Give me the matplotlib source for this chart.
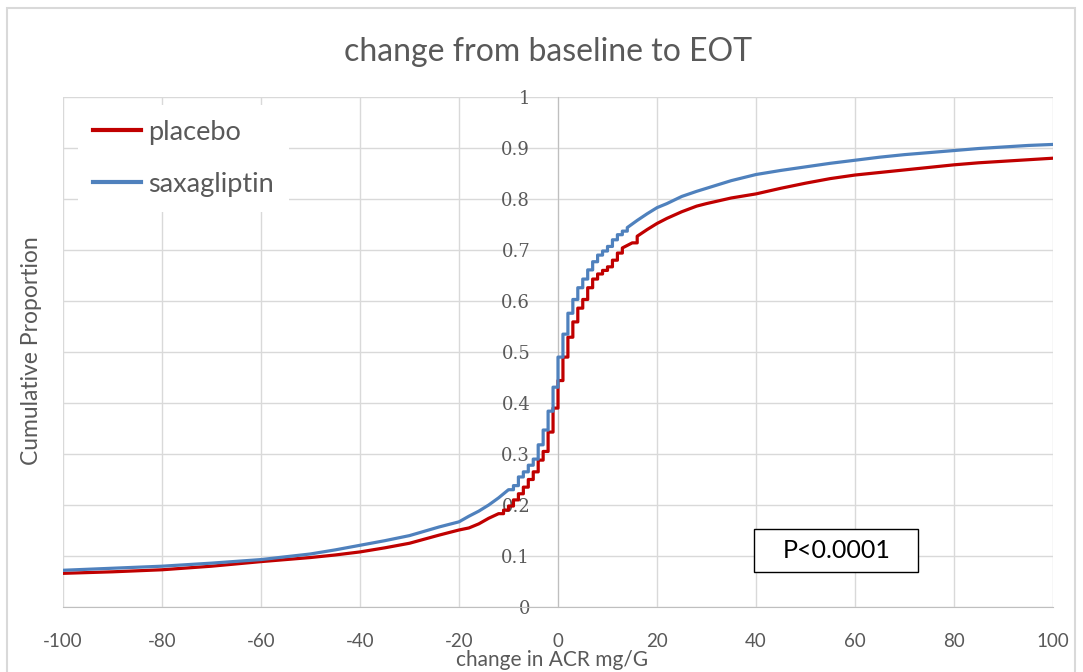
import matplotlib
matplotlib.use("Agg")
import matplotlib.pyplot as plt
from matplotlib.patches import Rectangle
import numpy as np

plt.rcParams["axes.unicode_minus"] = False

# cumulative distribution of change in ACR
placebo_x = [-100, -90, -80, -70, -60, -50, -45, -40, -35, -30, -24, -20, -18, -16, -14,
             -12, -11, -10, -9, -8, -7, -6, -5, -4, -3, -2, -1, 0, 1, 2, 3, 4, 5, 6, 7,
             8, 9, 10, 11, 12, 13, 15, 16, 18, 20, 22, 25, 28, 30, 35, 40, 45, 50, 55,
             60, 65, 70, 75, 80, 85, 90, 95, 100]
placebo_y = [0.066, 0.069, 0.073, 0.080, 0.089, 0.097, 0.102, 0.108, 0.116, 0.125, 0.141,
             0.151, 0.155, 0.163, 0.174, 0.183, 0.190, 0.198, 0.210, 0.222, 0.235, 0.250,
             0.265, 0.288, 0.305, 0.343, 0.390, 0.444, 0.490, 0.529, 0.559, 0.586, 0.603,
             0.626, 0.643, 0.653, 0.660, 0.667, 0.680, 0.694, 0.704, 0.714, 0.727, 0.740,
             0.752, 0.762, 0.775, 0.786, 0.791, 0.802, 0.810, 0.821, 0.831, 0.840, 0.847,
             0.852, 0.857, 0.862, 0.867, 0.871, 0.874, 0.877, 0.880]

saxa_x = [-100, -90, -80, -70, -60, -50, -45, -40, -35, -30, -24, -20, -18, -16, -14,
          -12, -10, -9, -8, -7, -6, -5, -4, -3, -2, -1, 0, 1, 2, 3, 4, 5, 6, 7, 8, 9, 10,
          11, 12, 13, 14, 16, 18, 20, 22, 25, 28, 30, 35, 40, 45, 50, 55, 60, 65, 70, 75,
          80, 85, 90, 95, 100]
saxa_y = [0.072, 0.076, 0.080, 0.086, 0.093, 0.104, 0.112, 0.121, 0.130, 0.140, 0.157,
          0.167, 0.178, 0.188, 0.200, 0.214, 0.230, 0.238, 0.255, 0.265, 0.278, 0.290,
          0.318, 0.347, 0.384, 0.431, 0.490, 0.535, 0.576, 0.603, 0.626, 0.643, 0.661,
          0.677, 0.690, 0.698, 0.707, 0.720, 0.730, 0.737, 0.744, 0.758, 0.771, 0.783,
          0.791, 0.805, 0.815, 0.821, 0.836, 0.848, 0.856, 0.863, 0.870, 0.876, 0.882,
          0.887, 0.891, 0.895, 0.899, 0.902, 0.905, 0.907]

x_ticks = [-100, -80, -60, -40, -20, 0, 20, 40, 60, 80, 100]
y_ticks = [0, 0.1, 0.2, 0.3, 0.4, 0.5, 0.6, 0.7, 0.8, 0.9, 1]
y_labels = ["0", "0.1", "0.2", "0.3", "0.4", "0.5", "0.6", "0.7", "0.8", "0.9", "1"]

GRAY = "#595959"
RED = "#c00000"
BLUE = "#4f81bd"


def ecdf_path(xs, ys):
    # steps where the points are dense, straight segments in the sparse tails
    px, py = [xs[0]], [ys[0]]
    for i in range(1, len(xs)):
        if xs[i] - xs[i - 1] <= 1:
            px.append(xs[i])
            py.append(ys[i - 1])
        px.append(xs[i])
        py.append(ys[i])
    return np.array(px), np.array(py)


fig = plt.figure(figsize=(10.83, 6.72), dpi=100)
ax = fig.add_axes([63 / 1083, 1 - 607 / 672, 990 / 1083, 510 / 672])

fig.patches.append(Rectangle((7 / 1083, -0.01), 1068 / 1083, 1 - 8 / 672 + 0.01,
                             transform=fig.transFigure, fill=False,
                             edgecolor="#d9d9d9", linewidth=1.5))

# spines first: moving a spine resets the tick labels
for s in ["top", "right"]:
    ax.spines[s].set_visible(False)
ax.spines["left"].set_position(("data", 0))
ax.spines["left"].set_color("#bfbfbf")
ax.spines["bottom"].set_color("#bfbfbf")

px, py = ecdf_path(placebo_x, placebo_y)
ax.plot(px, py, color=RED, linewidth=2.3, label="placebo", zorder=3)
sx, sy = ecdf_path(saxa_x, saxa_y)
ax.plot(sx, sy, color=BLUE, linewidth=2.3, label="saxagliptin", zorder=4)

ax.set_xlim(-100, 100)
ax.set_ylim(0, 1)
ax.set_xticks(x_ticks)
ax.set_xticklabels([str(v) for v in x_ticks])
ax.set_yticks(y_ticks)
ax.set_yticklabels(y_labels)
ax.grid(True, color="#d9d9d9", linewidth=1)
ax.set_axisbelow(True)
ax.tick_params(axis="both", length=0, colors=GRAY)
ax.tick_params(axis="y", pad=20, labelsize=13)
ax.tick_params(axis="x", pad=19, labelsize=13.5)

fig.text(548 / 1083, 1 - 52 / 672, "change from baseline to EOT", ha="center", va="center",
         fontsize=23, color=GRAY, family="Lato")
fig.text(32 / 1083, 1 - 351 / 672, "Cumulative Proportion", ha="center", va="center",
         rotation=90, fontsize=16.5, color=GRAY, family="Lato")
fig.text(552 / 1083, 1 - 660 / 672, "change in ACR mg/G", ha="center", va="center",
         fontsize=15, color=GRAY, family="Lato")

leg = ax.legend(loc="upper left", bbox_to_anchor=(0.015, 0.985), borderaxespad=0,
                frameon=True, facecolor="white", edgecolor="none", framealpha=1,
                fancybox=False, prop={"family": "Lato", "size": 19.5}, handlelength=1.8,
                handletextpad=0.25, labelspacing=1.0, borderpad=0.55)
for t in leg.get_texts():
    t.set_color(GRAY)
for h in leg.get_lines():
    h.set_linewidth(3)

ax.add_patch(Rectangle((0.698, 0.0686), 0.1656, 0.0844, transform=ax.transAxes,
                       facecolor="white", edgecolor="black", linewidth=1, zorder=5))
ax.text(0.781, 0.11, "P<0.0001", transform=ax.transAxes, ha="center", va="center",
        fontsize=18, color="black", family="Lato", zorder=6)

# tick fonts last, on the tick objects themselves
fig.canvas.draw()
for tick in ax.yaxis.get_major_ticks():
    tick.label1.set_fontfamily("DejaVu Serif")
for tick in ax.xaxis.get_major_ticks():
    tick.label1.set_fontfamily("Lato")

fig.savefig("out.png", dpi=100)
